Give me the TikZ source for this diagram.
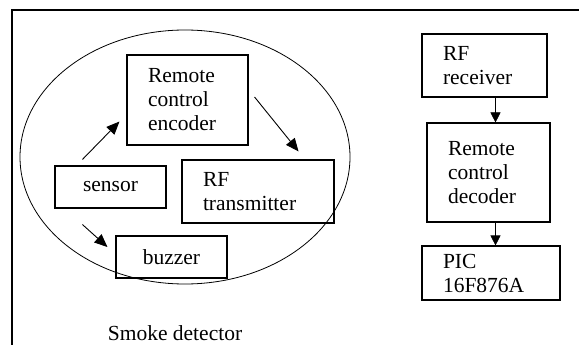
\documentclass[tikz,border=0pt]{standalone}
\usepackage{fontspec}
\setmainfont{Liberation Serif}
\usepackage{tikz}
\usetikzlibrary{arrows.meta}

\begin{document}
\begin{tikzpicture}[x=1pt,y=-1pt]
            \tikzstyle{every node}=[font=\fontsize{21.5}{24}\selectfont]
            \tikzstyle{blk}=[draw,line width=1.1pt,inner xsep=21pt,inner ysep=4pt,align=left]
            \tikzstyle{cblk}=[draw,line width=1.1pt,align=center]
            \tikzstyle{arr}=[line width=0.9pt,-{Triangle[length=13pt,width=11pt]}]
            \tikzstyle{varr}=[line width=0.6pt,-{Triangle[length=10pt,width=10pt]}]
            \useasboundingbox (0,0) rectangle (579,345);
            % frame
            \draw[line width=1.3pt] (12,345) -- (12,10) -- (579,10);
            % smoke detector side
            \draw[line width=0.8pt] (185,157) ellipse [x radius=165pt, y radius=127pt];
            \node[blk,text width=79pt,minimum height=90pt] (enc) at (187.5,100) {Remote\\control\\encoder};
            \node[cblk,minimum width=111pt,minimum height=42pt] (sen) at (110.5,187) {sensor};
            \node[blk,text width=110pt,minimum height=63pt] (tx) at (258,191.5) {RF\\transmitter};
            \node[cblk,minimum width=111pt,minimum height=42pt] (buz) at (171.5,257) {buzzer};
            \node (lbl) at (175,333) {Smoke detector};
            \draw[arr] ([xshift=28pt,yshift=6pt]sen.north west) -- ([xshift=-7pt,yshift=24pt]enc.south west);
            \draw[arr] ([xshift=6pt,yshift=3pt]enc.east) -- ([xshift=-36pt,yshift=8pt]tx.north east);
            \draw[arr] ([xshift=28pt,yshift=-16pt]sen.south west) -- ([xshift=-8pt,yshift=10pt]buz.west);
            % receiver side
            \node[blk,text width=83pt,minimum height=63pt] (rx) at (484.5,65.5) {RF\\receiver};
            \node[blk,text width=81pt,minimum height=99pt] (dec) at (488.5,172.5) {Remote\\control\\decoder};
            \node[blk,text width=96pt,minimum height=54pt] (pic) at (491,273) {PIC\\16F876A};
            \draw[varr] ([xshift=11pt]rx.south) -- ([xshift=11pt]rx.south |- dec.north);
            \draw[varr] ([xshift=7pt]dec.south) -- ([xshift=7pt]dec.south |- pic.north);
\end{tikzpicture}
\end{document}
